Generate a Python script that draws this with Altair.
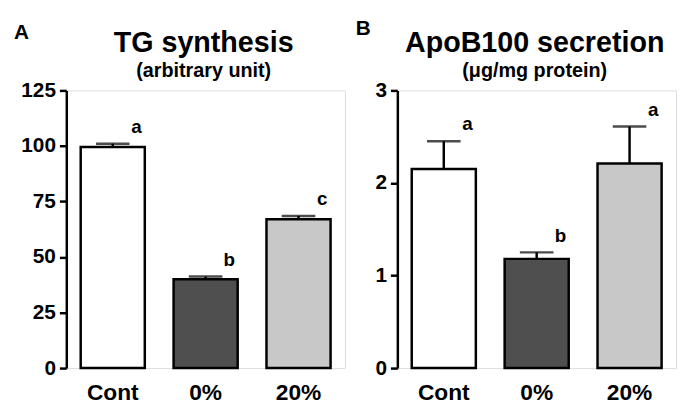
import altair as alt
import pandas as pd

groups = ["Cont", "0%", "20%"]
colors = ["#ffffff", "#4f4f4f", "#c8c8c8"]

tg_mean = [99.5, 40.0, 67.0]
tg_err = [1.5, 1.2, 1.5]
tg_letters = ["a", "b", "c"]

apo_mean = [2.15, 1.18, 2.21]
apo_err = [0.30, 0.07, 0.40]
apo_letters = ["a", "b", "a"]

FONT = "Liberation Sans"


def note(text, x, y, size, align="center"):
    return alt.Chart(pd.DataFrame({"t": [text]})).mark_text(
        font=FONT, fontWeight="bold", fontSize=size, align=align,
        baseline="alphabetic", color="black").encode(
        x=alt.value(x), y=alt.value(y), text="t:N")


def panel(mean, err, letters, ymax, yticks, title, subtitle, tag, tag_xy):
    df = pd.DataFrame({
        "group": groups,
        "mean": mean,
        "top": [m + e for m, e in zip(mean, err)],
        "letter": letters,
        "color": colors,
    })
    x = alt.X("group:N", sort=groups, title=None,
              scale=alt.Scale(paddingInner=0.31, paddingOuter=0.155),
              axis=alt.Axis(labelAngle=0, labelFontSize=23, labelFont=FONT,
                            labelFontWeight="bold", labelColor="black",
                            ticks=False, domain=False, labelPadding=14))
    y_axis = alt.Axis(values=yticks, grid=False, labelFontSize=21, labelFont=FONT,
                      labelFontWeight="bold", labelColor="black", tickColor="black",
                      tickSize=7, tickWidth=2.5, domainColor="black", domainWidth=2.5,
                      labelPadding=4, title=None, format="d")
    y = alt.Y("mean:Q", scale=alt.Scale(domain=[0, ymax], nice=False), axis=y_axis)
    base = alt.Chart(df)
    bars = base.mark_bar(stroke="black", strokeWidth=2.5).encode(
        x=x, y=y, fill=alt.Color("color:N", scale=None))
    rule = base.mark_rule(color="black", strokeWidth=2.5).encode(
        x=alt.X("group:N", sort=groups), y="mean:Q", y2="top:Q")
    cap = base.mark_tick(color="black", thickness=2.5, size=34).encode(
        x=alt.X("group:N", sort=groups), y="top:Q")
    txt = base.mark_text(font=FONT, fontWeight="bold", fontSize=19, dx=24, dy=-17,
                         baseline="middle", color="black").encode(
        x=alt.X("group:N", sort=groups), y="top:Q", text="letter:N")
    return alt.layer(
        bars, rule, cap, txt,
        note(tag, tag_xy[0], tag_xy[1], 21, align="left"),
        note(title, 139, -39, 29),
        note(subtitle, 139, -14, 20),
    ).properties(width=282, height=281)


left = panel(tg_mean, tg_err, tg_letters, 125, [0, 25, 50, 75, 100, 125],
             "TG synthesis", "(arbitrary unit)", "A", (-53, -52))
right = panel(apo_mean, apo_err, apo_letters, 3, [0, 1, 2, 3],
              "ApoB100 secretion", "(μg/mg protein)", "B", (-42, -56))

chart = alt.hconcat(left, right, spacing=9).properties(
    padding={"left": 5, "top": 7, "right": 0, "bottom": 0}
).configure_view(stroke="black", strokeWidth=2.5).configure(background="white")

chart.save("out.html", embed_options={"renderer": "svg", "actions": False})
